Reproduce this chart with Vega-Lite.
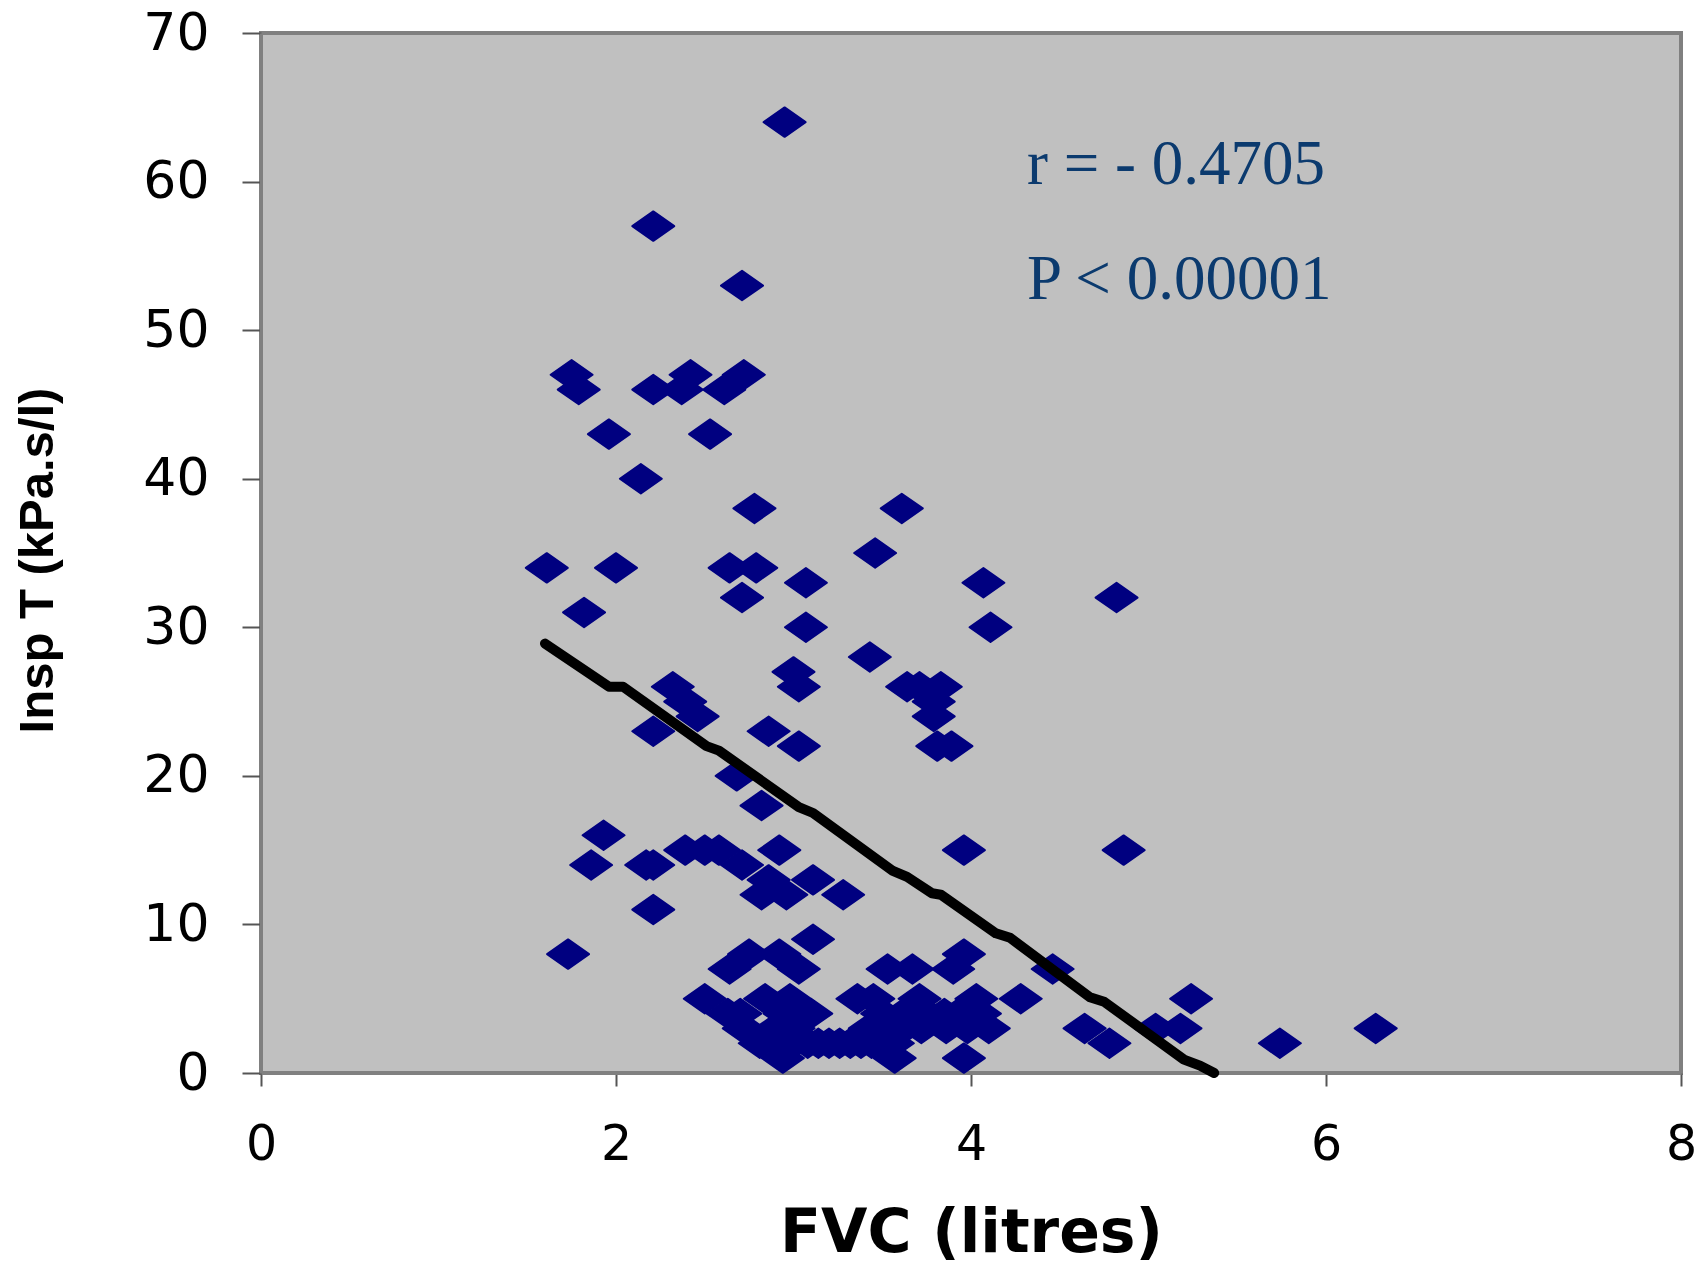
{
  "$schema": "https://vega.github.io/schema/vega-lite/v6.json",
  "width": 1420,
  "height": 1040,
  "autosize": {"type": "none"},
  "padding": {"left": 261, "top": 33, "right": 23, "bottom": 194},
  "background": "white",
  "config": {"view": {"fill": "#C0C0C0", "stroke": "#808080", "strokeWidth": 4}},
  "datasets": {
    "points": [
      {"fvc": 2.95, "inspT": 64}, {"fvc": 2.21, "inspT": 57}, {"fvc": 2.71, "inspT": 53},
      {"fvc": 1.75, "inspT": 47}, {"fvc": 1.79, "inspT": 46}, {"fvc": 1.96, "inspT": 43},
      {"fvc": 2.21, "inspT": 46}, {"fvc": 2.42, "inspT": 47}, {"fvc": 2.37, "inspT": 46},
      {"fvc": 2.61, "inspT": 46}, {"fvc": 2.72, "inspT": 47}, {"fvc": 2.53, "inspT": 43},
      {"fvc": 2.14, "inspT": 40}, {"fvc": 2.78, "inspT": 38}, {"fvc": 3.61, "inspT": 38},
      {"fvc": 3.46, "inspT": 35}, {"fvc": 1.61, "inspT": 34}, {"fvc": 2.00, "inspT": 34},
      {"fvc": 2.64, "inspT": 34}, {"fvc": 2.79, "inspT": 34}, {"fvc": 2.71, "inspT": 32},
      {"fvc": 3.07, "inspT": 33}, {"fvc": 4.07, "inspT": 33}, {"fvc": 4.82, "inspT": 32},
      {"fvc": 1.82, "inspT": 31}, {"fvc": 3.07, "inspT": 30}, {"fvc": 4.11, "inspT": 30},
      {"fvc": 3.43, "inspT": 28}, {"fvc": 3.00, "inspT": 27}, {"fvc": 3.03, "inspT": 26},
      {"fvc": 2.32, "inspT": 26}, {"fvc": 2.39, "inspT": 25}, {"fvc": 2.46, "inspT": 24},
      {"fvc": 2.21, "inspT": 23}, {"fvc": 2.86, "inspT": 23}, {"fvc": 3.03, "inspT": 22},
      {"fvc": 3.64, "inspT": 26}, {"fvc": 3.71, "inspT": 26}, {"fvc": 3.83, "inspT": 26},
      {"fvc": 3.79, "inspT": 25}, {"fvc": 3.79, "inspT": 24}, {"fvc": 3.81, "inspT": 22},
      {"fvc": 3.89, "inspT": 22}, {"fvc": 2.68, "inspT": 20}, {"fvc": 2.82, "inspT": 18},
      {"fvc": 1.93, "inspT": 16}, {"fvc": 1.86, "inspT": 14}, {"fvc": 2.17, "inspT": 14},
      {"fvc": 2.21, "inspT": 14}, {"fvc": 2.39, "inspT": 15}, {"fvc": 2.50, "inspT": 15},
      {"fvc": 2.58, "inspT": 15}, {"fvc": 2.71, "inspT": 14}, {"fvc": 2.92, "inspT": 15},
      {"fvc": 2.86, "inspT": 13}, {"fvc": 2.96, "inspT": 12}, {"fvc": 3.11, "inspT": 13},
      {"fvc": 2.82, "inspT": 12}, {"fvc": 3.28, "inspT": 12}, {"fvc": 2.21, "inspT": 11},
      {"fvc": 1.73, "inspT": 8}, {"fvc": 3.11, "inspT": 9}, {"fvc": 2.75, "inspT": 8},
      {"fvc": 2.92, "inspT": 8}, {"fvc": 2.64, "inspT": 7}, {"fvc": 3.03, "inspT": 7},
      {"fvc": 3.96, "inspT": 15}, {"fvc": 4.86, "inspT": 15}, {"fvc": 3.53, "inspT": 7},
      {"fvc": 3.67, "inspT": 7}, {"fvc": 3.96, "inspT": 8}, {"fvc": 3.90, "inspT": 7},
      {"fvc": 4.46, "inspT": 7},
      {"fvc": 2.50, "inspT": 5}, {"fvc": 2.84, "inspT": 5}, {"fvc": 2.98, "inspT": 5},
      {"fvc": 3.36, "inspT": 5}, {"fvc": 3.45, "inspT": 5}, {"fvc": 3.71, "inspT": 5},
      {"fvc": 4.03, "inspT": 5}, {"fvc": 4.28, "inspT": 5}, {"fvc": 5.24, "inspT": 5},
      {"fvc": 2.63, "inspT": 4}, {"fvc": 2.70, "inspT": 4}, {"fvc": 2.95, "inspT": 4},
      {"fvc": 3.02, "inspT": 4}, {"fvc": 3.10, "inspT": 4}, {"fvc": 3.50, "inspT": 4},
      {"fvc": 3.62, "inspT": 4}, {"fvc": 3.75, "inspT": 4}, {"fvc": 3.85, "inspT": 4},
      {"fvc": 3.93, "inspT": 4}, {"fvc": 4.05, "inspT": 4},
      {"fvc": 2.72, "inspT": 3}, {"fvc": 2.90, "inspT": 3}, {"fvc": 3.00, "inspT": 3},
      {"fvc": 3.43, "inspT": 3}, {"fvc": 3.52, "inspT": 3}, {"fvc": 3.62, "inspT": 3},
      {"fvc": 3.72, "inspT": 3}, {"fvc": 3.86, "inspT": 3}, {"fvc": 3.98, "inspT": 3},
      {"fvc": 4.10, "inspT": 3}, {"fvc": 4.64, "inspT": 3}, {"fvc": 5.04, "inspT": 3},
      {"fvc": 5.18, "inspT": 3}, {"fvc": 6.28, "inspT": 3},
      {"fvc": 2.81, "inspT": 2}, {"fvc": 2.92, "inspT": 2}, {"fvc": 3.00, "inspT": 2},
      {"fvc": 3.08, "inspT": 2}, {"fvc": 3.14, "inspT": 2}, {"fvc": 3.20, "inspT": 2},
      {"fvc": 3.26, "inspT": 2}, {"fvc": 3.32, "inspT": 2}, {"fvc": 3.38, "inspT": 2},
      {"fvc": 3.44, "inspT": 2}, {"fvc": 3.50, "inspT": 2}, {"fvc": 3.56, "inspT": 2},
      {"fvc": 4.78, "inspT": 2}, {"fvc": 5.74, "inspT": 2},
      {"fvc": 2.94, "inspT": 1}, {"fvc": 3.57, "inspT": 1}, {"fvc": 3.96, "inspT": 1}
    ],
    "trend": [
      {"fvc": 1.60, "inspT": 28.9}, {"fvc": 1.96, "inspT": 26.0}, {"fvc": 2.04, "inspT": 26.0},
      {"fvc": 2.51, "inspT": 22.0}, {"fvc": 2.58, "inspT": 21.7}, {"fvc": 3.03, "inspT": 17.9},
      {"fvc": 3.11, "inspT": 17.5}, {"fvc": 3.56, "inspT": 13.6}, {"fvc": 3.64, "inspT": 13.2},
      {"fvc": 3.78, "inspT": 12.1}, {"fvc": 3.83, "inspT": 12.0}, {"fvc": 4.14, "inspT": 9.4},
      {"fvc": 4.22, "inspT": 9.1}, {"fvc": 4.67, "inspT": 5.1}, {"fvc": 4.75, "inspT": 4.8},
      {"fvc": 5.20, "inspT": 0.9}, {"fvc": 5.29, "inspT": 0.5}, {"fvc": 5.37, "inspT": 0}
    ],
    "notes": [
      {"label": "r = - 0.4705", "fvc": 4.315, "inspT": 59.81},
      {"label": "P < 0.00001", "fvc": 4.315, "inspT": 52.07}
    ]
  },
  "layer": [
    {
      "data": {"name": "points"},
      "mark": {
        "type": "point",
        "shape": "M-1,0L0,-0.7L1,0L0,0.7Z",
        "filled": true,
        "size": 1764,
        "color": "#000080",
        "stroke": "#000080",
        "strokeWidth": 2,
        "strokeJoin": "round",
        "opacity": 1
      },
      "encoding": {
        "x": {
          "field": "fvc",
          "type": "quantitative",
          "scale": {"domain": [0, 8], "nice": false, "zero": false},
          "axis": {
            "title": "FVC (litres)",
            "values": [0, 2, 4, 6, 8],
            "format": "d",
            "grid": false,
            "domainColor": "#808080",
            "domainWidth": 3,
            "tickColor": "#555555",
            "tickWidth": 2,
            "tickSize": 13,
            "labelFont": "DejaVu Sans",
            "labelFontSize": 49,
            "labelColor": "black",
            "labelPadding": 34,
            "labelFlush": false,
            "labelOverlap": false,
            "labelBound": false,
            "titleFont": "DejaVu Sans",
            "titleFontSize": 60,
            "titleFontWeight": "bold",
            "titleColor": "black",
            "titleX": 710,
            "titleY": 178,
            "titleAlign": "center",
            "titleBaseline": "alphabetic"
          }
        },
        "y": {
          "field": "inspT",
          "type": "quantitative",
          "scale": {"domain": [0, 70], "nice": false, "zero": true},
          "axis": {
            "title": "Insp T (kPa.s/l)",
            "values": [0, 10, 20, 30, 40, 50, 60, 70],
            "format": "d",
            "grid": false,
            "domainColor": "#808080",
            "domainWidth": 3,
            "tickColor": "#555555",
            "tickWidth": 2,
            "tickSize": 19,
            "labelFont": "DejaVu Sans",
            "labelFontSize": 52,
            "labelColor": "black",
            "labelPadding": 33,
            "labelFlush": false,
            "labelOverlap": false,
            "labelBound": false,
            "titleFont": "Liberation Sans",
            "titleFontSize": 49,
            "titleFontWeight": "bold",
            "titleColor": "black",
            "titleAngle": 270,
            "titleX": -209,
            "titleY": 527,
            "titleAlign": "center",
            "titleBaseline": "alphabetic"
          }
        }
      }
    },
    {
      "data": {"name": "trend"},
      "mark": {"type": "line", "color": "black", "strokeWidth": 10, "strokeCap": "round", "strokeJoin": "round"},
      "encoding": {
        "x": {"field": "fvc", "type": "quantitative"},
        "y": {"field": "inspT", "type": "quantitative"}
      }
    },
    {
      "data": {"name": "notes"},
      "mark": {"type": "text", "font": "Liberation Serif", "fontSize": 63, "color": "#0B3A6E", "align": "left", "baseline": "alphabetic"},
      "encoding": {
        "x": {"field": "fvc", "type": "quantitative"},
        "y": {"field": "inspT", "type": "quantitative"},
        "text": {"field": "label"}
      }
    }
  ]
}
